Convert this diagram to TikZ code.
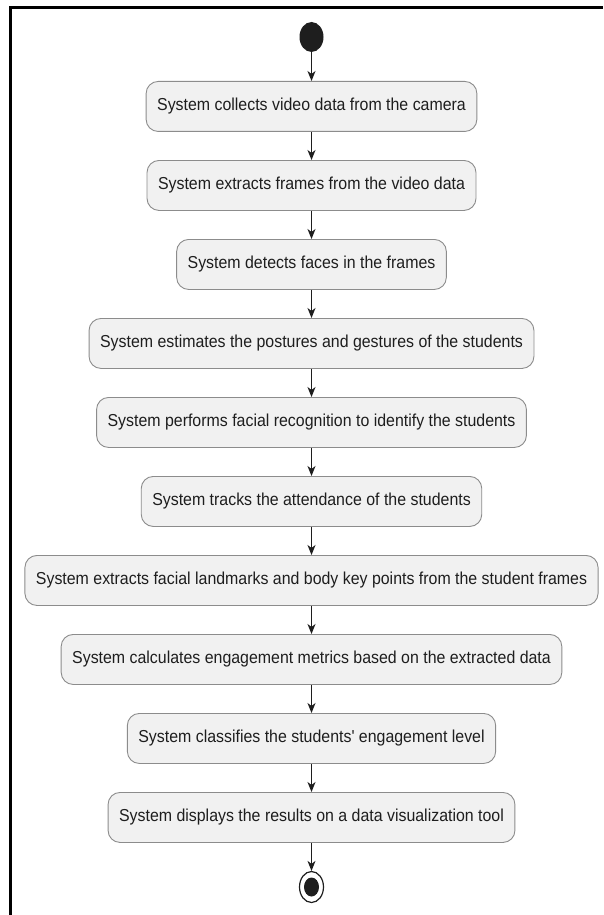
\documentclass[tikz,border=0pt]{standalone}
\usepackage{fontspec}
\setmainfont{Liberation Sans}
\newfontfamily\actfont[FakeStretch=0.92]{Liberation Sans}
\usetikzlibrary{arrows.meta,shapes.geometric}
\definecolor{boxfill}{HTML}{F1F1F1}
\definecolor{boxdraw}{HTML}{8C8C8C}
\definecolor{ink}{HTML}{1E1E1E}
\begin{document}
\begin{tikzpicture}[x=1pt,y=-1pt,
  act/.style={draw=boxdraw, line width=0.9pt, fill=boxfill, rounded corners=12pt,
    minimum height=50pt, inner xsep=11pt, font=\actfont\fontsize{17.3}{20}\selectfont,
    text=ink, anchor=north},
  flow/.style={draw=ink, line width=1.2pt, -{Stealth[length=10pt,width=8pt,inset=3pt]}},
  startnode/.style={ellipse, fill=ink, minimum width=24pt, minimum height=30pt, inner sep=0pt},
  endnode/.style={ellipse, draw=ink, line width=1.2pt, fill=white, minimum width=24pt, minimum height=31pt, inner sep=0pt},
]
\useasboundingbox (0,0) rectangle (603,915);
\fill[white] (0,0) rectangle (603,915);
\draw[line width=2.8pt, line join=miter] (10.5,915) -- (10.5,7.3) -- (603,7.3);

\node[startnode] (start) at (311.5,37) {};
\node[act] (b1) at (311.5,81) {System collects video data from the camera};
\node[act] (b2) at (311.5,160) {System extracts frames from the video data};
\node[act] (b3) at (311.5,239) {System detects faces in the frames};
\node[act] (b4) at (311.5,318) {System estimates the postures and gestures of the students};
\node[act] (b5) at (311.5,397) {System performs facial recognition to identify the students};
\node[act] (b6) at (311.5,476) {System tracks the attendance of the students};
\node[act] (b7) at (311.5,555) {System extracts facial landmarks and body key points from the student frames};
\node[act] (b8) at (311.5,634) {System calculates engagement metrics based on the extracted data};
\node[act] (b9) at (311.5,713) {System classifies the students' engagement level};
\node[act] (b10) at (311.5,792) {System displays the results on a data visualization tool};
\node[endnode] (end) at (311.5,887) {};
\fill[ink] (end.center) ellipse [x radius=7.5pt, y radius=9.5pt];

\draw[flow] (start) -- (b1);
\draw[flow] (b1) -- (b2);
\draw[flow] (b2) -- (b3);
\draw[flow] (b3) -- (b4);
\draw[flow] (b4) -- (b5);
\draw[flow] (b5) -- (b6);
\draw[flow] (b6) -- (b7);
\draw[flow] (b7) -- (b8);
\draw[flow] (b8) -- (b9);
\draw[flow] (b9) -- (b10);
\draw[flow] (b10) -- (end);
\end{tikzpicture}
\end{document}
